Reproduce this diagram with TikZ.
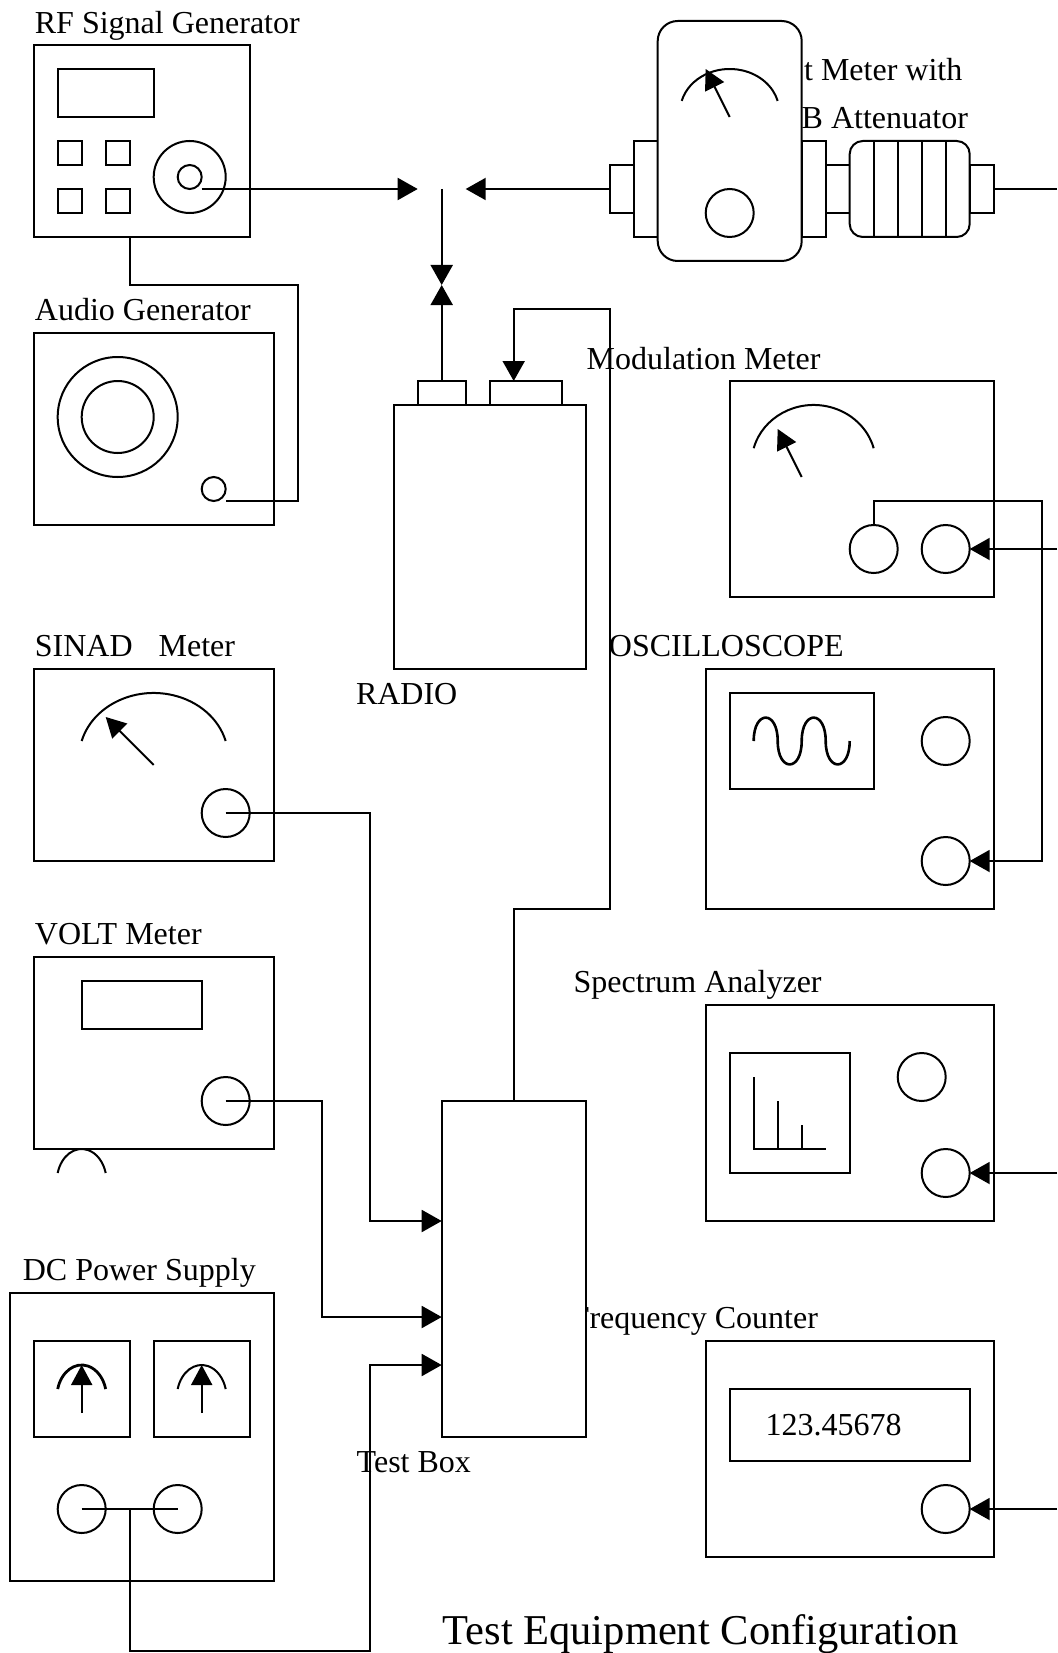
\documentclass[tikz,border=0pt]{standalone}
\usepackage{fontspec}
\setmainfont{Liberation Serif}
\usetikzlibrary{arrows.meta}
\tikzset{
  bx/.style={draw=black,fill=white,line width=1pt,inner sep=0pt,outer sep=0pt,rectangle},
  knob/.style={draw=black,fill=white,line width=1pt,inner sep=0pt,outer sep=0pt,circle},
  lbl/.style={anchor=base west,inner sep=0pt,outer sep=0pt,font=\fontsize{16}{18}\selectfont},
  titlelbl/.style={anchor=base west,inner sep=0pt,outer sep=0pt,font=\fontsize{21.25}{24}\selectfont},
  wire/.style={line width=1pt,line join=miter},
  feed/.style={line width=1pt,-{Triangle[length=10pt,width=11pt]}},
  gauge/.style={line width=1pt},
  needle/.style={line width=1pt,-{Triangle[length=10pt,width=10.5pt]}}
}
\newcommand{\devbox}[6][]{\node[bx,#1,minimum width={((#5)-(#3))*12pt},minimum height={((#6)-(#4))*12pt}] (#2) at ({((#3)+(#5))/2},{((#4)+(#6))/2}) {};}
\newcommand{\knobat}[4]{\node[knob,minimum size={2*(#4)*12pt}] (#1) at (#2,#3) {};}
\newcommand{\gaugearc}[5][]{\draw[gauge,#1] ({(#2)-(#4)},#3) arc[start angle=195,end angle=345,x radius={1.035*(#4)},y radius={1.35*(#5)}];}
\begin{document}
\begin{tikzpicture}[x=12pt,y=-12pt]
\useasboundingbox (-1.404,-1.875) rectangle (42.64,67);
% labels (drawn first: equipment and wires pass over them)
\node[lbl] (lrf) at (0.05,-0.46) {RF Signal Generator};
\node[lbl] (laudio) at (0.05,11.49) {Audio Generator};
\node[lbl] (lwatt) at (32.1,1.47) {t Meter with};
\node[lbl] (latt) at (32,3.46) {B Attenuator};
\node[lbl] (lmod) at (23.04,13.5) {Modulation Meter};
\node[lbl] (lsinad) at (0.05,25.47) {SINAD\ \ \ \hspace{1pt}Meter};
\node[lbl] (losc) at (23.97,25.47) {OSCILLOSCOPE};
\node[lbl] (lradio) at (13.43,27.46) {RADIO};
\node[lbl] (lvolt) at (0.05,37.47) {VOLT Meter};
\node[lbl] (lspec) at (22.5,39.46) {Spectrum Analyzer};
\node[lbl] (ldc) at (-0.45,51.46) {DC Power Supply};
\node[lbl] (lfreq) at (22.42,53.46) {Frequency Counter};
\node[lbl] (ltest) at (13.46,59.46) {Test Box};
\node[titlelbl] (ltitle) at (17.04,66.63) {Test Equipment Configuration};
% RF generator
\devbox{rf}{0}{0}{9}{8}
\devbox{rfd}{1}{1}{5}{3}
\devbox{rfa}{1}{4}{2}{5}
\devbox{rfb}{3}{4}{4}{5}
\devbox{rfc}{1}{6}{2}{7}
\devbox{rfe}{3}{6}{4}{7}
\knobat{rfk}{6.5}{5.5}{1.5}
\knobat{rfs}{6.5}{5.5}{0.5}
% Audio generator
\devbox{au}{0}{12}{10}{20}
\knobat{auo}{3.5}{15.5}{2.5}
\knobat{aui}{3.5}{15.5}{1.5}
\knobat{aus}{7.5}{18.5}{0.5}
% Radio
\devbox{radio}{15}{15}{23}{26}
\devbox{tabl}{16}{14}{18}{15}
\devbox{tabr}{19}{14}{22}{15}
% Wattmeter with attenuator
\devbox{wl}{24}{5}{25}{7}
\devbox{wm}{25}{4}{26}{8}
\devbox{wr}{32}{4}{33}{8}
\devbox{wc}{33}{5}{34}{7}
\devbox{wo}{39}{5}{40}{7}
\devbox[rounded corners=10pt]{watt}{26}{-1}{32}{9}
\devbox[rounded corners=6.5pt]{att}{34}{4}{39}{8}
\foreach \k in {35,36,37,38} \draw[wire] (\k,4) -- (\k,8);
\gaugearc{29}{2.33}{2}{1.33}
\draw[needle] (29,3) -- (28,1);
\knobat{wk}{29}{7}{1}
% SINAD
\devbox{si}{0}{26}{10}{34}
\gaugearc{5}{29}{3}{2}
\draw[needle] (5,30) -- (3,28);
\knobat{sik}{8}{32}{1}
% Volt
\devbox{vo}{0}{38}{10}{46}
\devbox{vod}{2}{39}{7}{41}
\knobat{vok}{8}{44}{1}
\gaugearc{2}{47}{1}{1}
% DC supply
\devbox{dc}{-1}{52}{10}{64}
\devbox{dca}{0}{54}{4}{58}
\devbox{dcb}{5}{54}{9}{58}
\gaugearc[line width=1.4pt]{2}{56}{1}{1}
\gaugearc{7}{56}{1}{1}
\draw[needle] (2,57) -- (2,55);
\draw[needle] (7,57) -- (7,55);
\knobat{dck}{2}{61}{1}
\knobat{dcl}{6}{61}{1}
% Test box
\devbox{tb}{17}{44}{23}{58}
% Modulation meter
\devbox{mo}{29}{14}{40}{23}
\gaugearc{32.5}{16.8}{2.5}{1.8}
\draw[needle] (32,18) -- (31,16);
\knobat{mok}{35}{21}{1}
\knobat{mol}{38}{21}{1}
% Oscilloscope
\devbox{os}{28}{26}{40}{36}
\devbox{oss}{29}{27}{35}{31}
\draw[line width=1.3pt] (30,29) .. controls (30,27.7) and (31,27.7) .. (31,29)
  .. controls (31,30.3) and (32,30.3) .. (32,29)
  .. controls (32,27.7) and (33,27.7) .. (33,29)
  .. controls (33,30.3) and (34,30.3) .. (34,29);
\knobat{osk}{38}{29}{1}
\knobat{osl}{38}{34}{1}
% Spectrum analyzer
\devbox{sp}{28}{40}{40}{49}
\devbox{sps}{29}{42}{34}{47}
\draw[wire] (30,43) -- (30,46) -- (33,46);
\draw[wire] (31,44) -- (31,46);
\draw[wire] (32,45) -- (32,46);
\knobat{spk}{37}{43}{1}
\knobat{spl}{38}{47}{1}
% Frequency counter
\devbox{fr}{28}{54}{40}{63}
\node[bx,minimum width=120pt,minimum height=36pt] (frd) at (34,57.5) {};
\node[lbl] (lnum) at (30.5,57.92) {123.45678};
\knobat{frk}{38}{61}{1}
% free ends and junctions
\coordinate (rfout) at (7,6);
\coordinate (jr) at (16,6);
\coordinate (jl) at (18,6);
\coordinate (jt) at (17,6);
\coordinate (jb) at (17,10);
\coordinate (rEdge1) at (42.64,6);
\coordinate (rEdge2) at (42.64,21);
\coordinate (rEdge3) at (42.64,47);
\coordinate (rEdge4) at (42.64,61);
\coordinate (tbA) at (17,49);
\coordinate (tbB) at (17,53);
\coordinate (tbC) at (17,55);
% connectors
\draw[feed] (rfout) -- (jr);
\draw[feed] (wl.west) -- (jl);
\draw[feed] (jt) -- (jb);
\draw[feed] (tabl.north) -- (jb);
\draw[wire] (wo.east) -- (rEdge1);
\draw[wire] (rf.south -| 4,0) -- (4,10) -- (11,10) -- (11,19) -- (8,19);
\draw[feed] (tb.north -| 20,0) -- (20,36) -- (24,36) -- (24,11) -- (20,11) -- (tabr.north -| 20,0);
\draw[feed] (sik.center) -- (14,32) -- (tbA -| 14,0) -- (tbA);
\draw[feed] (vok.center) -- (12,44) -- (tbB -| 12,0) -- (tbB);
\draw[wire] (dck.center) -- (dcl.center);
\draw[feed] (4,61) -- (4,66.9) -- (14,66.9) -- (14,55) -- (tbC);
\draw[feed] (rEdge2) -- (mol.east);
\draw[feed] (mok.north) -- (35,19) -- (42,19) -- (42,34) -- (osl.east);
\draw[feed] (rEdge3) -- (spl.east);
\draw[feed] (rEdge4) -- (frk.east);
\end{tikzpicture}
\end{document}
